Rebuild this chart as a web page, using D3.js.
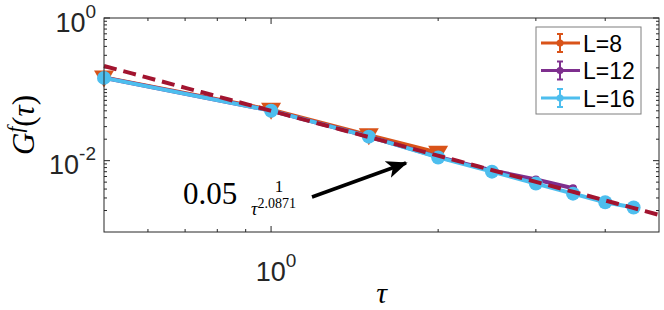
<!DOCTYPE html>
<html lang="en">
<head>
<meta charset="utf-8">
<title>G^f(tau) log-log</title>
<script src="https://cdn.jsdelivr.net/npm/d3@7"></script>
<style>
  body { margin: 0; background: #fff; }
  svg { display: block; }
  .tick-label { font-family: "Liberation Sans", Arial, sans-serif; fill: #262626; }
  .math { font-family: "Liberation Serif", "DejaVu Serif", serif; fill: #000; }
</style>
</head>
<body>
<script>
// data
var tau8  = [0.5, 1.0, 1.5, 2.0];
var g8    = [0.147, 0.0517, 0.0227, 0.0129];
var err8  = [0.003, 0.0012, 0.0006, 0.0004];

var tau12 = [0.5, 1.0, 1.5, 2.0, 2.5, 3.0, 3.5];
var g12   = [0.145, 0.0503, 0.0218, 0.0113, 0.0073, 0.00545, 0.0041];
var err12 = [0.002, 0.0008, 0.0004, 0.0003, 0.0002, 0.0003, 0.0003];

var tau16 = [0.5, 1.0, 1.5, 2.0, 2.5, 3.0, 3.5, 4.0, 4.5];
var g16   = [0.1446, 0.0502, 0.0217, 0.0111, 0.00702, 0.00477, 0.00345, 0.00261, 0.0022];
var err16 = [0.001, 0.0005, 0.0002, 0.0001, 0.0001, 0.0001, 0.0001, 0.0001, 0.0001];

var seriesNames = ["L=8", "L=12", "L=16"];
var fitA = 0.05, fitB = 2.0871;

var w = 664, h = 310;
var plotL = 104, plotR = 659, plotT = 18, plotB = 232;

var svg = d3.select("body").append("svg").attr("width", w).attr("height", h);

var x = d3.scaleLog().domain([0.5, 5]).range([plotL, plotR]);
var y = d3.scaleLog().domain([1e-3, 1]).range([plotB, plotT]);

var axisColor = "#262626";

// minor + major ticks on all four sides
var xMajor = [1];
var xMinor = [0.6, 0.7, 0.8, 0.9, 2, 3, 4];
var yMajor = [1e-2, 1];
var yMinor = [];
[1e-3, 1e-2, 1e-1].forEach(function(d) {
  for (var k = 2; k <= 9; k++) yMinor.push(d * k);
});
yMinor.push(1e-1);

var ticks = svg.append("g").attr("stroke", axisColor).attr("stroke-width", 1);
xMajor.concat(xMinor).forEach(function(t) {
  var len = xMajor.indexOf(t) >= 0 ? 6 : 3;
  ticks.append("line").attr("x1", x(t)).attr("x2", x(t)).attr("y1", plotB).attr("y2", plotB - len);
  ticks.append("line").attr("x1", x(t)).attr("x2", x(t)).attr("y1", plotT).attr("y2", plotT + len);
});
yMajor.concat(yMinor).forEach(function(t) {
  var len = yMajor.indexOf(t) >= 0 ? 6 : 3;
  ticks.append("line").attr("y1", y(t)).attr("y2", y(t)).attr("x1", plotL).attr("x2", plotL + len);
  ticks.append("line").attr("y1", y(t)).attr("y2", y(t)).attr("x1", plotR).attr("x2", plotR - len);
});

// data
var line = d3.line().x(function(d) { return x(d[0]); }).y(function(d) { return y(d[1]); });

function drawSeries(tau, g, err, color, marker) {
  var pts = tau.map(function(t, i) { return [t, g[i], err[i]]; });
  var grp = svg.append("g");
  grp.append("path").datum(pts).attr("d", line)
     .attr("fill", "none").attr("stroke", color).attr("stroke-width", 4)
     .attr("stroke-linejoin", "round");
  pts.forEach(function(p) {
    var cx = x(p[0]), y1 = y(p[1] + p[2]), y2 = y(p[1] - p[2]);
    grp.append("line").attr("x1", cx).attr("x2", cx).attr("y1", y1).attr("y2", y2)
       .attr("stroke", color).attr("stroke-width", 2);
    [y1, y2].forEach(function(yy) {
      grp.append("line").attr("x1", cx - 3).attr("x2", cx + 3).attr("y1", yy).attr("y2", yy)
         .attr("stroke", color).attr("stroke-width", 2);
    });
  });
  if (marker === "tri") {
    grp.selectAll("path.m").data(pts).enter().append("path")
      .attr("d", function(d) {
        var cx = x(d[0]), cy = y(d[1]);
        return "M" + (cx - 10) + "," + (cy - 7) + "L" + (cx + 10) + "," + (cy - 7) + "L" + cx + "," + (cy + 10) + "Z";
      })
      .attr("fill", color);
  } else {
    grp.selectAll("circle").data(pts).enter().append("circle")
      .attr("cx", function(d) { return x(d[0]); })
      .attr("cy", function(d) { return y(d[1]); })
      .attr("r", marker === "big" ? 7 : 4)
      .attr("fill", color);
  }
}

var colors = ["#D95319", "#7E2F8E", "#4DBEEE"];
drawSeries(tau8, g8, err8, colors[0], "tri");
drawSeries(tau12, g12, err12, colors[1], "small");
drawSeries(tau16, g16, err16, colors[2], "big");

// fit line
var fitPts = d3.range(0, 41).map(function(i) {
  var t = 0.5 * Math.pow(10, i / 40);
  return [t, fitA / Math.pow(t, fitB)];
});
svg.append("path").datum(fitPts).attr("d", line)
  .attr("fill", "none").attr("stroke", "#A2142F").attr("stroke-width", 4)
  .attr("stroke-dasharray", "13,7");

// axes box
svg.append("rect").attr("x", plotL).attr("y", plotT)
  .attr("width", plotR - plotL).attr("height", plotB - plotT)
  .attr("fill", "none").attr("stroke", axisColor).attr("stroke-width", 1);

// tick labels
function powLabel(px, py, exp, anchor) {
  var t = svg.append("text").attr("class", "tick-label")
    .attr("x", px).attr("y", py).attr("text-anchor", anchor).attr("font-size", 27);
  t.append("tspan").text("10");
  t.append("tspan").attr("dy", -14).attr("font-size", 19).text(exp);
}
powLabel(96, y(1) + 14, "0", "end");
powLabel(96, y(1e-2) + 13, "-2", "end");
powLabel(x(1) + 5, 281, "0", "middle");

// axis labels
var serif = "'Liberation Serif', 'DejaVu Serif', serif";
svg.append("text").attr("x", (plotL + plotR) / 2).attr("y", 303)
  .attr("font-family", serif).attr("fill", "#000")
  .attr("text-anchor", "middle").attr("font-size", 30).attr("font-style", "italic").text("τ");

var yl = svg.append("text").attr("font-family", serif).attr("fill", "#000")
  .attr("transform", "translate(34," + ((plotT + plotB) / 2) + ") rotate(-90)")
  .attr("text-anchor", "middle").attr("font-size", 31);
yl.append("tspan").attr("font-style", "italic").text("G");
yl.append("tspan").attr("font-style", "italic").attr("font-size", 21).attr("dy", -12).text("f");
yl.append("tspan").attr("dy", 12).text("(");
yl.append("tspan").attr("font-style", "italic").text("τ");
yl.append("tspan").text(")");

// annotation
svg.append("text").attr("x", 183).attr("y", 204)
  .attr("font-family", serif).attr("fill", "#000")
  .attr("font-size", 31).text("0.05");
svg.append("text").attr("x", 279).attr("y", 192)
  .attr("font-family", serif).attr("fill", "#000")
  .attr("text-anchor", "middle").attr("font-size", 17).text("1");
var den = svg.append("text").attr("x", 251).attr("y", 215)
  .attr("font-family", serif).attr("fill", "#000").attr("font-size", 18);
den.append("tspan").attr("font-style", "italic").text("τ");
den.append("tspan").attr("dy", -7).attr("font-size", 14).text(fitB.toFixed(4));

svg.append("defs").append("marker").attr("id", "ah")
  .attr("viewBox", "0 0 12 10").attr("refX", 11).attr("refY", 5)
  .attr("markerWidth", 6).attr("markerHeight", 5).attr("markerUnits", "strokeWidth")
  .attr("orient", "auto")
  .append("path").attr("d", "M0,0 L12,5 L0,10 L3,5 Z").attr("fill", "#000");
svg.append("line").attr("x1", 312).attr("y1", 197).attr("x2", 406).attr("y2", 163)
  .attr("stroke", "#000").attr("stroke-width", 3.5).attr("marker-end", "url(#ah)");

// legend
var lg = svg.append("g");
lg.append("rect").attr("x", 536).attr("y", 27).attr("width", 105).attr("height", 87)
  .attr("fill", "#fff").attr("stroke", "#7f7f7f").attr("stroke-width", 1);
seriesNames.forEach(function(name, i) {
  var ly = 43 + i * 27.5;
  lg.append("line").attr("x1", 541).attr("x2", 580).attr("y1", ly).attr("y2", ly)
    .attr("stroke", colors[i]).attr("stroke-width", 3);
  lg.append("line").attr("x1", 560).attr("x2", 560).attr("y1", ly - 9).attr("y2", ly + 9)
    .attr("stroke", colors[i]).attr("stroke-width", 2);
  [ly - 9, ly + 9].forEach(function(yy) {
    lg.append("line").attr("x1", 557).attr("x2", 563).attr("y1", yy).attr("y2", yy)
      .attr("stroke", colors[i]).attr("stroke-width", 2);
  });
  lg.append("circle").attr("cx", 560).attr("cy", ly).attr("r", 3.5).attr("fill", colors[i]);
  lg.append("text").attr("x", 583).attr("y", ly + 8.5)
    .attr("font-family", "Liberation Sans, Arial, sans-serif").attr("font-size", 23)
    .attr("fill", "#000").text(name);
});
</script>
</body>
</html>
